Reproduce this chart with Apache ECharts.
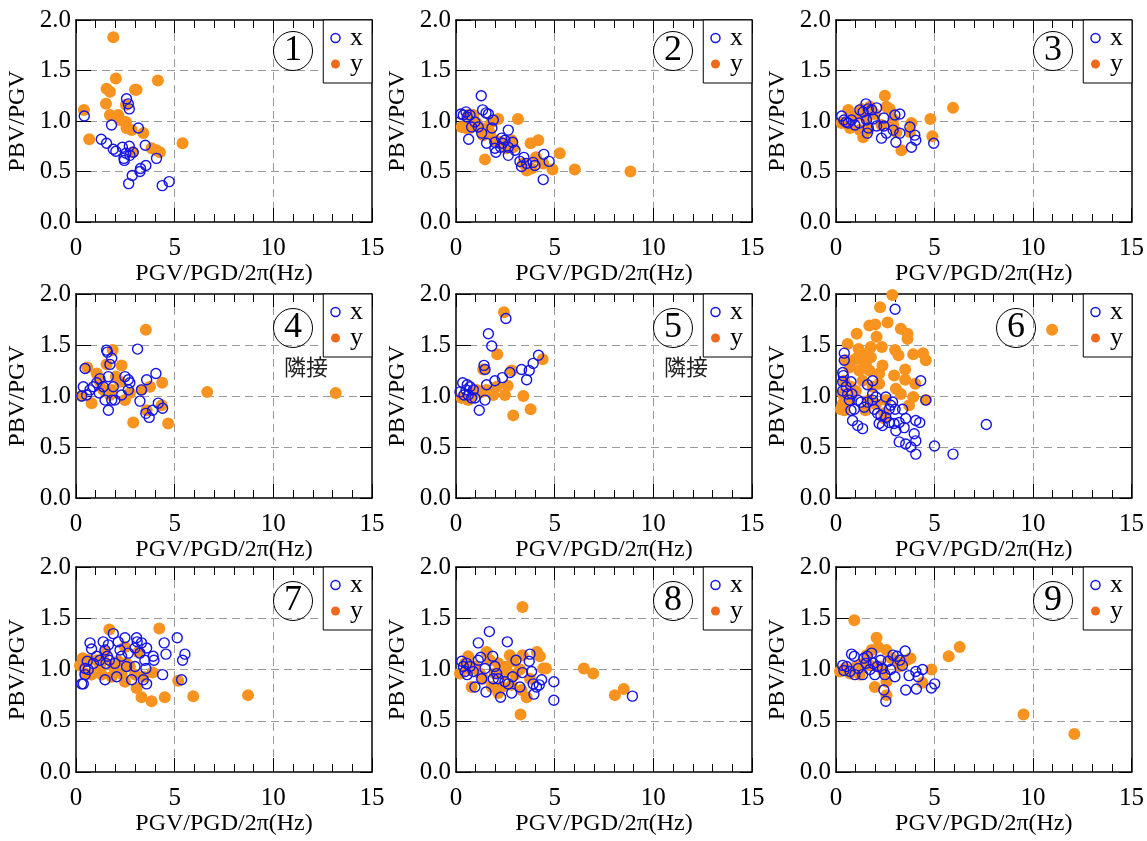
<!DOCTYPE html>
<html>
<head>
<meta charset="utf-8">
<script src="https://cdn.jsdelivr.net/npm/echarts@6/dist/echarts.min.js"></script>
<style>html,body{margin:0;padding:0;background:#fff;}#chart{width:1147px;height:841px;}</style>
</head>
<body>
<div id="chart"></div>
<script>
// ---- tick labels ----
const xTicks = [0, 5, 10, 15];
const yTicks = [0, 0.5, 1.0, 1.5, 2.0];
const xTitle = 'PGV/PGD/2π(Hz)';
const yTitle = 'PBV/PGV';
const panelLabels = ['1', '2', '3', '4', '5', '6', '7', '8', '9'];
const seriesNames = ['x', 'y'];
const noteText = '隣接';
const notePanels = [3, 4];

// ---- data: [PGV/PGD/2π, PBV/PGV] ----
const p1x = [[0.42,1.05],[1.80,0.96],[2.56,1.22],[2.70,1.12],[2.65,1.17],[3.16,0.93],[1.28,0.82],[1.55,0.78],[1.89,0.72],[2.02,0.70],[2.35,0.74],[2.70,0.75],[2.53,0.68],[2.43,0.63],[2.45,0.61],[2.73,0.66],[2.90,0.69],[3.51,0.76],[4.08,0.63],[3.54,0.56],[3.27,0.53],[3.24,0.50],[2.85,0.46],[2.67,0.38],[4.37,0.36],[4.72,0.40]];
const p1y = [[1.89,1.83],[2.02,1.42],[1.55,1.32],[1.72,1.29],[1.52,1.17],[0.40,1.11],[0.67,0.82],[1.72,1.06],[2.14,1.06],[2.23,1.01],[2.53,0.99],[2.56,0.93],[2.82,0.91],[2.99,1.31],[3.07,1.31],[2.53,1.16],[3.41,0.88],[4.15,1.40],[3.83,0.73],[4.08,0.71],[4.25,0.69],[5.40,0.78],[2.87,0.69]];

const p2x = [[0.25,1.07],[0.37,1.06],[0.51,1.09],[0.57,1.04],[0.71,1.06],[0.64,0.82],[0.79,0.94],[0.96,0.99],[1.13,0.94],[1.28,1.25],[1.35,1.11],[1.52,1.08],[1.64,1.07],[1.30,0.88],[1.55,0.78],[1.89,1.01],[1.82,0.93],[1.97,0.79],[1.97,0.73],[2.02,0.69],[2.31,0.83],[2.48,0.81],[2.65,0.91],[2.65,0.74],[2.65,0.66],[2.87,0.79],[2.99,0.71],[3.24,0.60],[3.32,0.55],[3.44,0.64],[3.58,0.58],[3.91,0.59],[4.00,0.56],[4.45,0.67],[4.72,0.60],[4.42,0.42],[2.36,0.78],[2.26,0.74]];
const p2y = [[0.29,0.94],[0.51,0.93],[0.62,1.06],[0.88,1.06],[0.71,0.93],[1.05,0.98],[1.21,0.93],[1.38,0.86],[1.47,0.62],[1.64,0.91],[1.81,0.99],[2.14,1.02],[1.97,0.81],[2.23,0.79],[2.48,0.78],[2.56,0.73],[2.82,0.81],[3.14,1.02],[3.78,0.78],[4.17,0.81],[3.41,0.58],[3.58,0.51],[3.83,0.53],[4.05,0.64],[4.42,0.58],[4.89,0.52],[5.26,0.68],[6.02,0.52],[8.84,0.50],[2.90,0.74],[1.55,0.93],[1.72,0.88]];

const p3x = [[0.29,1.05],[0.40,1.01],[0.51,0.99],[0.62,0.98],[0.79,1.01],[0.96,0.96],[1.18,0.98],[1.21,1.11],[1.38,1.09],[1.52,1.17],[1.64,1.12],[1.81,1.11],[1.55,1.01],[1.64,0.93],[1.59,0.88],[2.06,1.13],[2.06,0.95],[2.43,1.03],[2.43,0.95],[2.31,0.83],[2.56,0.88],[2.90,0.91],[2.99,1.06],[3.24,1.07],[3.04,0.79],[3.24,0.88],[3.75,0.94],[3.83,0.74],[4.00,0.86],[4.05,0.81],[4.96,0.78],[1.89,1.02]];
const p3y = [[0.29,0.98],[0.62,1.11],[0.71,0.93],[0.88,1.04],[1.13,1.06],[1.21,0.91],[1.38,0.84],[1.30,1.12],[1.55,1.02],[1.72,1.14],[1.97,1.07],[2.48,1.25],[2.56,1.14],[2.73,1.12],[2.90,1.02],[2.90,0.96],[3.07,0.89],[3.32,0.71],[3.83,0.98],[3.75,0.89],[4.79,1.02],[4.89,0.85],[5.94,1.13],[2.31,0.96],[1.64,0.91]];

const p4x = [[0.29,1.00],[0.37,1.09],[0.46,1.27],[0.54,1.01],[0.71,1.06],[0.88,1.09],[1.05,1.13],[1.21,1.17],[1.38,1.09],[1.55,1.45],[1.59,1.43],[1.72,1.31],[1.81,1.37],[1.64,0.86],[1.47,0.96],[1.81,0.96],[1.97,0.96],[1.89,1.09],[1.64,1.19],[2.48,1.19],[2.65,1.16],[2.73,1.13],[2.65,1.06],[2.31,1.01],[3.12,1.46],[3.24,0.95],[3.32,1.06],[3.58,1.16],[4.05,1.22],[3.54,0.83],[3.71,0.79],[3.88,0.86],[4.17,0.93],[4.39,0.88],[1.18,1.03]];
const p4y = [[0.29,1.00],[0.57,1.28],[0.79,0.93],[1.05,1.22],[1.21,1.14],[1.38,1.06],[1.55,1.31],[1.86,1.45],[2.02,1.19],[1.81,1.06],[2.31,1.30],[2.48,0.96],[2.73,1.03],[2.90,0.74],[3.32,1.06],[3.54,1.65],[3.75,1.09],[4.37,1.13],[3.58,0.86],[4.34,0.91],[4.67,0.73],[6.65,1.04],[13.16,1.03],[1.72,1.01],[2.23,1.14]];

const p5x = [[0.20,1.04],[0.34,1.13],[0.40,1.01],[0.51,1.06],[0.57,1.11],[0.62,1.01],[0.71,1.09],[0.79,0.98],[0.88,1.06],[0.96,0.98],[1.18,0.86],[1.42,1.30],[1.47,1.26],[1.47,0.96],[1.55,1.11],[1.64,1.61],[1.81,1.49],[1.97,1.15],[2.35,1.18],[2.53,1.76],[2.73,1.23],[3.32,1.26],[3.58,1.16],[3.71,1.25],[3.91,1.32],[4.18,1.40]];
const p5y = [[0.29,0.98],[0.62,0.96],[0.88,1.01],[1.05,1.06],[1.30,1.04],[1.38,1.26],[1.89,1.01],[2.06,1.09],[2.09,1.41],[2.43,1.82],[2.48,1.01],[2.62,1.10],[2.82,1.25],[2.90,0.81],[3.41,1.00],[3.78,0.87],[4.39,1.36],[1.55,1.06]];

const p6x = [[3.00,1.85],[0.42,1.42],[0.42,1.35],[0.37,1.20],[0.34,1.14],[0.51,1.09],[0.34,1.05],[0.76,1.14],[0.81,1.02],[0.59,1.02],[0.68,0.96],[1.60,1.11],[1.86,1.15],[1.86,1.02],[2.03,0.99],[1.86,0.96],[1.10,0.96],[1.27,0.94],[1.43,0.89],[1.60,0.94],[0.93,0.87],[0.76,0.86],[0.84,0.76],[1.10,0.71],[1.35,0.68],[1.94,0.87],[2.11,0.83],[2.28,0.81],[2.53,0.99],[2.87,0.94],[3.00,0.87],[2.70,0.87],[2.53,0.79],[2.70,0.74],[2.19,0.73],[2.36,0.71],[2.95,0.73],[3.21,0.74],[3.54,0.78],[3.46,0.69],[3.04,0.66],[4.05,0.76],[4.25,0.74],[3.97,0.63],[4.05,0.56],[3.21,0.55],[3.54,0.53],[3.80,0.50],[4.05,0.43],[5.00,0.51],[5.94,0.43],[4.30,1.15],[4.56,0.96],[3.38,0.87],[2.78,0.91],[7.63,0.72],[0.34,1.23]];
const p6y = [[2.86,1.99],[2.24,1.87],[1.69,1.69],[1.99,1.70],[2.62,1.72],[3.29,1.66],[3.63,1.61],[3.63,1.56],[2.06,1.58],[1.05,1.61],[0.59,1.51],[1.15,1.46],[1.77,1.48],[2.33,1.48],[3.00,1.45],[3.17,1.40],[3.92,1.41],[4.42,1.42],[4.56,1.35],[0.88,1.35],[1.27,1.36],[1.52,1.31],[1.77,1.38],[2.19,1.22],[1.69,1.25],[1.18,1.25],[0.68,1.28],[0.51,1.35],[3.51,1.26],[2.95,1.20],[3.51,1.16],[4.02,1.12],[3.92,0.99],[3.29,1.02],[3.04,1.07],[4.56,0.96],[3.71,0.91],[2.53,0.96],[2.19,1.12],[1.86,1.09],[1.35,1.15],[0.42,1.15],[0.34,1.02],[0.34,0.92],[0.42,0.86],[0.25,0.87],[0.42,0.95],[0.76,1.09],[1.01,1.05],[1.49,0.86],[2.45,0.83],[2.03,0.92],[1.10,1.38],[1.43,1.41],[1.69,0.96],[2.36,1.30],[10.97,1.65],[2.45,0.78],[0.76,0.97]];

const p7x = [[0.29,0.86],[0.37,0.86],[0.46,0.95],[0.46,1.01],[0.57,1.08],[0.62,1.00],[0.71,1.26],[0.79,1.20],[0.88,1.06],[1.05,1.13],[1.21,1.09],[1.38,1.27],[1.47,0.90],[1.52,1.06],[1.59,1.13],[1.64,1.24],[1.69,1.09],[1.89,1.35],[1.97,1.06],[2.06,0.93],[2.14,1.27],[2.23,1.19],[2.48,1.31],[2.31,1.13],[2.56,1.03],[2.65,1.16],[2.82,0.90],[2.99,1.03],[3.07,1.31],[3.10,1.27],[2.99,1.21],[3.24,1.16],[3.32,1.26],[3.41,0.90],[3.58,1.21],[3.49,1.09],[3.54,1.01],[3.58,0.86],[3.91,1.13],[3.95,1.09],[4.39,0.95],[4.47,1.26],[4.56,1.15],[5.13,1.31],[5.40,1.09],[5.52,1.15],[5.35,0.90],[1.47,1.19]];
const p7y = [[0.20,1.04],[0.34,1.11],[0.46,0.96],[0.62,1.09],[0.79,0.95],[1.05,1.09],[1.21,1.03],[1.30,0.95],[1.47,1.17],[1.69,1.39],[1.89,1.03],[1.81,0.93],[2.14,1.08],[2.31,0.96],[2.48,1.22],[2.48,0.88],[2.73,1.03],[2.99,0.95],[3.16,1.17],[3.07,0.82],[3.32,0.73],[3.41,0.93],[3.83,0.69],[3.88,0.97],[4.22,1.40],[4.50,0.73],[5.18,0.89],[5.94,0.74],[8.72,0.75],[1.38,1.09],[1.98,1.00],[2.56,1.06]];

const p8x = [[0.29,1.08],[0.37,1.03],[0.46,0.98],[0.54,1.06],[0.57,0.95],[0.71,1.03],[0.88,0.98],[0.96,0.83],[1.13,1.09],[1.13,1.26],[1.25,1.12],[1.30,0.91],[1.47,1.01],[1.52,0.78],[1.69,1.37],[1.86,1.13],[1.89,0.91],[1.97,1.03],[2.06,0.96],[2.14,0.91],[2.26,0.73],[2.48,0.88],[2.60,1.27],[2.65,0.86],[2.87,0.93],[2.82,0.77],[3.04,1.09],[3.24,0.83],[3.37,0.97],[3.75,1.15],[3.71,1.08],[3.83,0.98],[3.91,0.86],[3.95,0.76],[4.08,0.83],[4.22,0.85],[4.34,0.90],[4.96,0.88],[4.96,0.70],[8.94,0.74]];
const p8y = [[0.20,0.96],[0.46,1.06],[0.62,1.13],[0.71,1.00],[0.79,0.83],[0.96,1.03],[1.21,0.96],[1.38,0.91],[1.55,1.17],[1.72,1.09],[1.81,0.83],[1.97,0.96],[2.14,1.06],[2.14,0.77],[2.40,0.95],[2.56,1.03],[2.73,1.14],[2.82,0.85],[2.99,0.95],[3.24,1.00],[3.37,1.14],[3.37,1.61],[3.32,0.80],[3.58,0.73],[3.27,0.56],[3.75,0.91],[4.10,1.17],[4.25,1.13],[4.42,1.01],[4.56,1.01],[6.48,1.01],[6.95,0.96],[8.05,0.75],[8.50,0.81],[2.31,0.83],[2.90,1.08]];

const p9x = [[0.34,1.04],[0.40,0.99],[0.54,1.03],[0.71,0.98],[0.79,1.15],[0.93,1.13],[0.96,0.95],[1.13,1.01],[1.35,0.95],[1.42,1.11],[1.52,1.06],[1.59,1.13],[1.72,1.00],[1.81,1.16],[1.89,1.06],[1.97,0.95],[2.09,1.03],[2.26,1.09],[2.36,1.01],[2.43,0.80],[2.53,0.69],[2.48,0.95],[2.65,1.08],[2.77,1.00],[2.90,1.14],[2.99,0.93],[3.10,1.13],[3.24,1.09],[3.37,1.04],[3.51,1.18],[3.54,0.80],[3.71,0.94],[4.05,0.98],[4.08,0.81],[4.17,0.93],[4.39,1.00],[4.84,0.82],[5.01,0.86]];
const p9y = [[0.20,0.98],[0.46,1.01],[0.71,0.96],[0.93,1.48],[1.05,1.03],[1.21,0.95],[1.38,1.06],[1.55,1.14],[1.81,1.19],[1.97,0.83],[2.06,1.31],[2.14,1.22],[2.23,1.03],[2.56,1.19],[2.56,0.88],[2.56,0.75],[2.82,1.11],[3.07,1.08],[3.24,1.03],[3.58,1.09],[3.78,1.11],[4.39,0.87],[4.84,1.00],[5.72,1.13],[6.28,1.22],[9.52,0.56],[12.10,0.37],[1.72,1.04],[2.40,0.98]];

const panelX = [p1x, p2x, p3x, p4x, p5x, p6x, p7x, p8x, p9x];
const panelY = [p1y, p2y, p3y, p4y, p5y, p6y, p7y, p8y, p9y];

// ---- layout & style ----
const W = 1147;
const colLeft = [76, 456, 836];
const gridW = 296;
const rowTop = [20, 294, 567];
const rowH = [202, 204, 205];
const xNameGap = [38, 37, 40];
const circleDX = [197, 197, 197, 197, 197, 160, 197, 197, 197];
const circleDY = [11, 11, 11, 14, 14, 14, 14, 14, 14];
const SERIF = '"Liberation Serif","Times New Roman",serif';
const BLUE = '#1414e6';
const ORANGE = '#f7931e';
const ORANGE_LEG = '#f06a1c';

const xStep = xTicks[1] - xTicks[0];
const yStep = yTicks[1] - yTicks[0];

const grid = [], xAxis = [], yAxis = [], series = [], legend = [], title = [];
for (let i = 0; i < 9; i++) {
  const r = Math.floor(i / 3), c = i % 3;
  const gl = colLeft[c], gt = rowTop[r], gh = rowH[r];
  grid.push({left: gl, top: gt, width: gridW, height: gh, containLabel: false});
  const xBase = {
    gridIndex: i, type: 'value',
    min: xTicks[0], max: xTicks[xTicks.length - 1], interval: xStep,
    axisLine: {show: true, onZero: false, lineStyle: {color: '#000', width: 1.5}},
    minorTick: {show: true, splitNumber: 5, length: 8, lineStyle: {color: '#000', width: 1}},
    minorSplitLine: {show: false}
  };
  xAxis.push(Object.assign({}, xBase, {
    position: 'bottom',
    name: xTitle, nameLocation: 'middle', nameGap: xNameGap[r],
    nameTextStyle: {fontFamily: SERIF, fontSize: 24, color: '#000'},
    axisTick: {show: true, inside: true, length: 14, lineStyle: {color: '#000', width: 1}},
    axisLabel: {show: true, fontFamily: SERIF, fontSize: 25, color: '#000', margin: 14},
    splitLine: {show: true, showMinLine: false, showMaxLine: false, lineStyle: {color: '#9a9a9a', width: 1, type: [8, 5]}}
  }));
  xAxis.push(Object.assign({}, xBase, {
    position: 'top',
    axisTick: {show: true, inside: true, length: 13, lineStyle: {color: '#000', width: 1}},
    axisLabel: {show: false},
    splitLine: {show: false}
  }));
  const yBase = {
    gridIndex: i, type: 'value',
    min: yTicks[0], max: yTicks[yTicks.length - 1], interval: yStep,
    axisLine: {show: true, onZero: false, lineStyle: {color: '#000', width: 1.5}}
  };
  yAxis.push(Object.assign({}, yBase, {
    position: 'left',
    name: yTitle, nameLocation: 'middle', nameGap: 46, nameRotate: 90,
    nameTextStyle: {fontFamily: SERIF, fontSize: 24, color: '#000'},
    axisTick: {show: true, inside: true, length: 15, lineStyle: {color: '#000', width: 1}},
    axisLabel: {show: true, fontFamily: SERIF, fontSize: 25, color: '#000', margin: 5,
      formatter: v => v.toFixed(1)},
    splitLine: {show: true, showMinLine: false, showMaxLine: false, lineStyle: {color: '#9a9a9a', width: 1, type: [8, 5]}}
  }));
  yAxis.push(Object.assign({}, yBase, {
    position: 'right',
    axisTick: {show: true, inside: true, length: 12, lineStyle: {color: '#000', width: 1}},
    axisLabel: {show: false},
    splitLine: {show: false}
  }));
  series.push({
    type: 'scatter', name: seriesNames[1], xAxisIndex: 2 * i, yAxisIndex: 2 * i,
    data: panelY[i], symbol: 'circle', symbolSize: 12, z: 2,
    itemStyle: {color: ORANGE, opacity: 1}, emphasis: {disabled: true}
  });
  series.push({
    type: 'scatter', name: seriesNames[0], xAxisIndex: 2 * i, yAxisIndex: 2 * i,
    data: panelX[i], symbol: 'circle', symbolSize: 10, z: 3,
    itemStyle: {color: 'rgba(0,0,0,0)', borderColor: BLUE, borderWidth: 1.4, opacity: 1}, emphasis: {disabled: true}
  });
  legend.push({
    orient: 'vertical', right: W - (gl + gridW), top: gt,
    itemGap: 0, itemWidth: 9, itemHeight: 9,
    padding: [5, 9, 6, 7],
    borderColor: '#000', borderWidth: 1, backgroundColor: '#fff',
    selectedMode: false,
    textStyle: {fontFamily: SERIF, fontSize: 26, lineHeight: 20, color: '#000', padding: [0, 0, 0, 5]},
    data: [
      {name: seriesNames[0], icon: 'circle', itemStyle: {color: 'rgba(0,0,0,0)', borderColor: BLUE, borderWidth: 1.5, opacity: 1}},
      {name: seriesNames[1], icon: 'circle', itemStyle: {color: ORANGE_LEG, opacity: 1}}
    ]
  });
  title.push({
    text: panelLabels[i], left: gl + circleDX[i], top: gt + circleDY[i],
    padding: [1, 11, 1, 11], borderColor: '#000', borderWidth: 1, borderRadius: 20,
    textStyle: {fontFamily: SERIF, fontSize: 36, lineHeight: 38, fontWeight: 'normal', color: '#000'}
  });
}
notePanels.forEach(i => {
  const r = Math.floor(i / 3), c = i % 3;
  title.push({
    text: noteText, left: colLeft[c] + 208, top: rowTop[r] + 62, padding: 0,
    textStyle: {fontFamily: '"Noto Sans CJK JP", sans-serif', fontSize: 22, fontWeight: 'normal', color: '#222'}
  });
});

const chart = echarts.init(document.getElementById('chart'), null, {renderer: 'canvas'});
chart.setOption({
  animation: false,
  backgroundColor: '#fff',
  textStyle: {fontFamily: SERIF},
  title, legend, grid, xAxis, yAxis, series
});
</script>
</body>
</html>
